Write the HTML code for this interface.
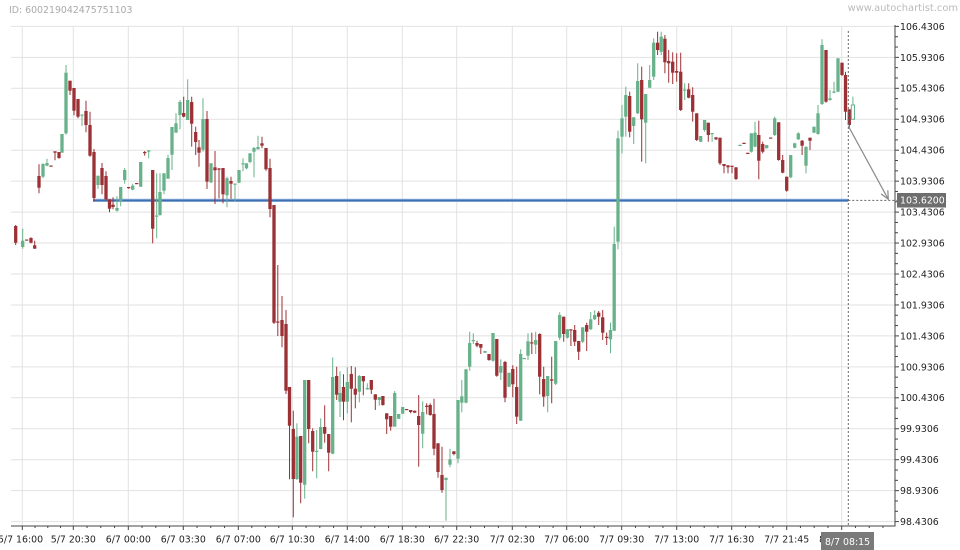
<!DOCTYPE html>
<html><head><meta charset="utf-8">
<style>
html,body{margin:0;padding:0;background:#fff;}
svg{display:block;}
text{font-family:"DejaVu Sans","Liberation Sans",sans-serif;}
</style></head>
<body>
<svg id="s" width="960" height="550" viewBox="0 0 960 550" xmlns="http://www.w3.org/2000/svg">
<rect x="0" y="0" width="960" height="550" fill="#fff"/>
<g id="grid" stroke="#e2e2e2" stroke-width="1"></g>
<g id="axes" stroke="#444" stroke-width="1"></g>
<line x1="93" y1="200.4" x2="848.3" y2="200.4" stroke="#8fb0dc" stroke-width="3.2"/>
<line x1="93" y1="200.4" x2="848.3" y2="200.4" stroke="#3f6fb3" stroke-width="1.6"/>
<g id="candles"></g>
<line x1="848.3" y1="31" x2="848.3" y2="526" stroke="#666" stroke-width="1" stroke-dasharray="2,2"/>
<line x1="848.3" y1="200.4" x2="897" y2="200.4" stroke="#666" stroke-width="1" stroke-dasharray="2,2"/>
<line x1="848.3" y1="126" x2="888.3" y2="199.3" stroke="#8a8a8a" stroke-width="1.2"/>
<polyline points="887.8,190.3 888.3,199.3 881.1,193.9" fill="none" stroke="#8a8a8a" stroke-width="1.2"/>
<text x="9" y="13" font-size="9.4" fill="#aaa">ID: 600219042475751103</text>
<text x="958" y="11" font-size="9.9" fill="#bbb" text-anchor="end">www.autochartist.com</text>
<g font-size="9.4" fill="#222">
<text x="900" y="29.8">106.4306</text>
<text x="900" y="60.8">105.9306</text>
<text x="900" y="91.7">105.4306</text>
<text x="900" y="122.7">104.9306</text>
<text x="900" y="153.6">104.4306</text>
<text x="900" y="184.6">103.9306</text>
<text x="900" y="215.5">103.4306</text>
<text x="900" y="246.5">102.9306</text>
<text x="900" y="277.4">102.4306</text>
<text x="900" y="308.4">101.9306</text>
<text x="900" y="339.3">101.4306</text>
<text x="900" y="370.3">100.9306</text>
<text x="900" y="401.2">100.4306</text>
<text x="900" y="432.2">99.9306</text>
<text x="900" y="463.1">99.4306</text>
<text x="900" y="494.1">98.9306</text>
<text x="900" y="525">98.4306</text>
</g>
<g font-size="9.4" fill="#222" text-anchor="middle">
<text x="20.5" y="542.5">5/7 16:00</text>
<text x="73.3" y="542.5">5/7 20:30</text>
<text x="128.3" y="542.5">6/7 00:00</text>
<text x="183.3" y="542.5">6/7 03:30</text>
<text x="238.3" y="542.5">6/7 07:00</text>
<text x="292.3" y="542.5">6/7 10:30</text>
<text x="347.3" y="542.5">6/7 14:00</text>
<text x="402.3" y="542.5">6/7 18:30</text>
<text x="456.7" y="542.5">6/7 22:30</text>
<text x="512.3" y="542.5">7/7 02:30</text>
<text x="566.7" y="542.5">7/7 06:00</text>
<text x="621.7" y="542.5">7/7 09:30</text>
<text x="676.7" y="542.5">7/7 13:00</text>
<text x="731.7" y="542.5">7/7 16:30</text>
<text x="786.7" y="542.5">7/7 21:45</text>
<text x="841.7" y="542.5">8/7 02:30</text>
</g>
<rect x="821" y="532" width="53" height="18" fill="#7a7a7a"/>
<text x="847.5" y="545" font-size="9.4" fill="#fff" text-anchor="middle">8/7 08:15</text>
<rect x="897" y="193" width="49" height="14.5" fill="#6e6e6e"/>
<text x="900" y="203.6" font-size="9.4" fill="#fff">103.6200</text>
</svg>
<script>
(function(){
var NS="http://www.w3.org/2000/svg";
function el(p,n,a){var e=document.createElementNS(NS,n);for(var k in a)e.setAttribute(k,a[k]);p.appendChild(e);return e;}
var grid=document.getElementById('grid'),axes=document.getElementById('axes'),cg=document.getElementById('candles');
var xs=[22.3,73.3,128.3,183.3,238.3,292.3,347.3,402.3,456.7,512.3,566.7,621.7,676.7,731.7,786.7,841.7];
var i,k,y;
for(i=0;i<=16;i++){y=26.4+i*30.95;el(grid,'line',{x1:11,y1:y,x2:895,y2:y});
 el(axes,'line',{x1:895,y1:y,x2:899,y2:y});
 if(i<16){el(axes,'line',{x1:895,y1:y+10.32,x2:898,y2:y+10.32});el(axes,'line',{x1:895,y1:y+20.63,x2:898,y2:y+20.63});}}
for(i=0;i<xs.length;i++){el(grid,'line',{x1:xs[i],y1:26.4,x2:xs[i],y2:526});
 el(axes,'line',{x1:xs[i],y1:526,x2:xs[i],y2:530});}
for(i=0;i<xs.length;i++){var a=xs[i],b=(i<xs.length-1)?xs[i+1]:895;var st=(i<xs.length-1)?(b-a)/4:13.75;
 for(k=1;k<4;k++){var xx=a+st*k;if(xx<894)el(axes,'line',{x1:xx,y1:526,x2:xx,y2:528});}}
el(axes,'line',{x1:895,y1:25,x2:895,y2:526.5});
el(axes,'line',{x1:11,y1:526,x2:895.5,y2:526});
var R='#9b3035',G='#67b28a';
var d=[
[15.7,226,242.7,225,245,'r'],[22.7,240.7,247,228.7,248.7,'g'],[26.7,239.5,240.5,239.5,240.5,'r'],[31,238,242.7,237.3,243.3,'r'],[34.7,245.3,248.7,240.7,248.7,'r'],
[39,176,187.7,164.3,193.3,'r'],[43,164,176.7,163.3,178.3,'g'],[47,163,165.7,158.7,166.3,'g'],[51,165.5,166.5,165.5,166.5,'r'],[55,151.3,152.7,151.3,160.3,'r'],
[59,152,158,152,158.7,'r'],[62,134,152.7,134,152.7,'g'],[66,72.7,133.3,65,134.7,'g'],[70,80.7,90.7,80.7,95,'r'],[74,88,110.7,88,115.3,'r'],
[78,99,116.7,99,118.3,'r'],[82,114.5,115.5,114.5,125.7,'g'],[86,111,125,100.7,132.3,'r'],[90,125,155.7,111.7,156.7,'r'],[94,152,198,149,201.3,'r'],
[98,175.7,185,175.7,189,'g'],[102,168,185,163,194.3,'r'],[106,176,199.3,171.3,200,'r'],[109.5,199.3,208.7,199.3,212.3,'r'],[113,204.7,207,197.3,209.3,'r'],
[117,208,210.7,196,211.7,'g'],[120.7,187,201.3,187,206.3,'g'],[124.7,170,180,168,183.7,'g'],[128.7,187,188,187,188.7,'r'],[132.7,185.7,189.7,183.7,190.3,'g'],
[136.7,183,184,183,184,'r'],[140.7,162,186.7,162,187,'g'],[144.7,152,153,151,155.7,'r'],[148.7,150.3,151.7,150.3,158.3,'g'],[152.7,170,228.7,170,243.3,'r'],
[156.7,215.5,216.5,173.3,238.3,'g'],[160,192,215,173.3,215.7,'g'],[164,173.3,190.7,173.3,194.3,'g'],[168,158,178.7,154.7,178.7,'g'],[172,127,154.7,127,170,'g'],
[176,123.3,132.7,113.3,132.7,'g'],[180,102,115,100,129.3,'g'],[183.7,113,116.7,96.7,117.3,'r'],[187.7,100,120,79.3,120,'g'],[191.7,102,123.7,96.7,146.7,'r'],
[195.7,132,142,126.7,155,'r'],[199,147.3,152.7,140,166.7,'r'],[203,119,149.7,98.3,151.7,'g'],[207,119,181.7,111,189,'r'],[211,163.3,182.3,163.3,183,'g'],
[215,167.3,170.3,151,204,'r'],[219,168.5,169.5,168,198.3,'r'],[223,168,194.3,168,203.3,'r'],[227,178.3,195.3,176.7,207.3,'g'],[231,181,183.7,176.7,198.7,'r'],
[235,183.5,184.5,183.5,202,'g'],[239,170,182.7,170,183,'g'],[243,163.3,164.3,158.3,171.3,'g'],[246.5,163.3,168.3,163.3,169.3,'g'],[250,153.3,162,153.3,163.3,'g'],
[254,148,151.7,146.7,177.3,'g'],[258,147,149.3,135.7,149.3,'g'],[262,143.3,145.7,136.7,148.3,'r'],[266,148,169.3,148,170.7,'r'],[270,168,209,158.7,217.3,'r'],
[274,205,322.7,205,324,'r'],[277.8,321.5,322.7,265,336,'r'],[282,320,336,296,347.3,'r'],[286,324,390.7,310,394,'r'],[289.5,387,425.7,387,479.3,'r'],
[293.3,429,479,410.7,517.3,'r'],[296.9,436.7,479,423.3,480,'g'],[300.7,436,482.7,436,503.3,'r'],[304.7,380,484.7,380,498.7,'g'],[308.7,380,429,380,443.3,'r'],
[312.7,431,451.7,428.3,471.3,'r'],[316.7,450.8,451.8,430,478.3,'g'],[320.7,427,449,418.3,449.3,'g'],[324.7,427,433.7,405.3,442.7,'r'],[328.7,434,452.7,434,471.3,'r'],
[332.7,377,453.7,357.3,454.3,'g'],[336.7,376,394.7,366.7,400,'r'],[340,393,401.7,371.3,417,'g'],[343.5,387,401.7,374.3,420.3,'r'],[347.3,382,401.7,367.3,413.3,'g'],
[351.3,374,388.7,366,422.3,'r'],[355.3,388.7,394.7,367.3,408.3,'r'],[359.3,376,391.7,375,402.3,'g'],[363.3,376,381.3,376,395.3,'r'],[367.3,388,389.3,383.3,389.7,'g'],
[371.3,380,389.7,380,394,'r'],[375.3,394.3,399.7,394.3,410,'r'],[379.3,397,400,397,405.7,'g'],[382.9,396,405,396,405.7,'r'],[386.7,413.3,419.3,413.3,434,'r'],
[390.7,416,426.7,416,430.7,'r'],[394.7,393,426.7,391,426.7,'g'],[398.7,414,418.7,414,419,'g'],[402.7,407,413.7,407,414,'g'],[406.7,409,410,409,410,'r'],
[410.7,410,412,410,413.3,'r'],[414.7,410.7,412.7,410.7,413,'r'],[418.7,416,425,395,466.7,'r'],[422.7,412,433.7,401.3,448.3,'g'],[426.7,405.7,406.7,403.3,414.3,'r'],
[430.2,405,415,403.3,415.7,'r'],[434,414,448.7,398.7,455.3,'r'],[438,443.3,472,443.3,477.7,'r'],[442,475,490,446.7,492.7,'r'],[446,477.7,480,477.7,520.7,'g'],
[450,459.3,464.7,448.7,467.3,'g'],[453.9,451.3,454,451.3,455.3,'r'],[458,400,458.7,400,463.3,'g'],[461.8,396.3,402.7,380,412.3,'g'],[466,369.3,402.7,369.3,403.3,'g'],
[469.7,343,366.7,331.7,370.7,'g'],[473.3,340,341,333.3,344,'g'],[477,343,345.7,340.7,347.3,'r'],[480.8,344,347.7,344,354,'r'],[485,351,352.7,351,353,'g'],
[489,354,360,354,360.7,'r'],[493,333,360.7,333,361.7,'g'],[496.8,339,375.7,339,376.7,'r'],[500.8,366,372.7,359.3,380,'g'],[505,362,397.7,361,402.3,'r'],
[509,372.7,386.7,372.7,387.3,'g'],[512.8,369,384.3,365.3,397.3,'r'],[516.7,387,416.7,366.7,424,'r'],[520.7,354,420.7,349.3,421,'g'],[524.3,358,359,358,359,'g'],
[528,341.3,355.7,333.3,360,'g'],[531.8,342.3,343.3,332.7,354,'r'],[535.7,340,344.7,331.7,354,'g'],[539.7,334,376.7,333.3,394.3,'r'],[543.7,379,396.7,366.7,406.7,'r'],
[547.7,376,396,376,412.3,'g'],[551.7,379.3,380.7,356.7,403.3,'r'],[555.7,341,383.7,341,385,'g'],[559.7,315,337.7,312.3,340,'g'],[563.7,316.7,334,316.7,341.7,'r'],
[567.4,329.3,337.7,329,338.5,'g'],[570.9,329.3,330.3,329.3,346,'r'],[574.7,330,341.7,325,346,'r'],[578.7,341,351.7,341,360,'r'],[582.7,327.3,341.7,327.3,343,'g'],
[586.7,325,331.7,322.7,351,'r'],[590.7,319.3,329.3,312,330,'g'],[594.7,315,319.3,310.3,320,'g'],[598.7,312.7,316.7,311,325,'r'],[602.7,317.3,332.7,310,340,'r'],
[606.7,336.8,337.8,332.7,345,'r'],[610.5,330,339.3,322.7,353.3,'g'],[614.2,244,330.7,226.7,331,'g'],[618,138.3,241.7,130.7,249.3,'g'],[622,118.3,136.7,105,153.3,'g'],
[625.8,95,116.7,86.7,136.7,'g'],[629.7,96,131.7,91.7,137.3,'r'],[633.7,117.3,126,117.3,144,'g'],[637.7,81,113.3,63.3,114,'g'],[641.7,80,119.3,66.7,161.7,'r'],
[645.7,94,122.7,94,163.3,'g'],[649.7,80,87.7,65,88.3,'g'],[653.7,42.7,76.7,38.3,80,'g'],[657.6,42.7,50,31.7,55,'r'],[661.2,36.7,51.7,31.7,55,'g'],
[664.9,38.7,62.3,35,73.3,'r'],[668.7,61,63.3,50,82.7,'r'],[672.7,61.7,72.7,52.3,84,'r'],[676.7,71,72.7,53.3,81.7,'r'],[680.7,71.7,110,52.7,111,'r'],
[684.7,89.5,90.5,83.3,100,'g'],[688.7,89.3,97.7,83.3,98.3,'r'],[692.7,95,111.7,87.3,121.7,'r'],[696.7,113.3,140,113.3,141,'r'],[700.7,136,141.7,136,142,'g'],
[704.6,120,130,120,131.7,'g'],[708.3,122.7,135,122.7,141.7,'r'],[712.1,133,134,133,141.7,'g'],[716,137.3,139.3,137.3,140,'r'],[720,137.7,163.3,137.7,165,'r'],
[724,164,166,164,173.3,'r'],[728,165.3,167.3,165.3,173.3,'r'],[732,165.7,166.7,165.7,173.3,'r'],[736,167.3,179,167.3,180,'r'],
[740,144.8,145.8,144.8,145.8,'g'],[744,142.8,143.8,142.8,143.8,'r'],[747.8,152.8,153.8,152.8,153.8,'r'],[751.3,133.3,151.7,133.3,152.7,'g'],[755,132.7,146.7,121.7,147.3,'g'],
[758.8,135,160.7,120.7,179.3,'r'],[762.7,144,151.7,141.7,153.3,'r'],[766.7,145,148.3,145,148.5,'g'],[770.7,137.5,138.5,137.5,138.5,'r'],[774.7,118.3,135,116.7,136,'g'],
[778.7,122.3,160,122.3,160.7,'r'],[782.7,160,172.7,155,173.3,'r'],[786.7,176.7,190.7,176.7,191.7,'r'],[790.7,155,177.3,155,178.3,'g'],[794.7,143.3,147.7,142.7,148.3,'g'],
[798.3,133.3,139.3,132.3,140,'g'],[802.1,140.7,145.7,140,155,'r'],[806,146.7,165.7,146.7,173.3,'g'],[810,137.7,140.7,137.7,150,'r'],[814,126.7,132.7,126.7,133.3,'g'],
[818,113.3,134,105,134.7,'g'],[822,45,104,39.3,105,'g'],[826,50,101.7,50,102.7,'r'],[830,98.3,100,90,100.7,'g'],[834,91.5,92.7,81.7,93.3,'g'],
[838,58.3,91.7,58.3,92.3,'g'],[842,62.7,75,62.7,76,'r'],[845.5,75,111.7,71.7,120,'r'],[849.3,109.3,125,109.3,128.3,'r']
];
var w=3.3;
for(i=0;i<d.length;i++){var c=d[i],col=c[5]=='r'?R:G;
 el(cg,'line',{x1:c[0],y1:c[3],x2:c[0],y2:c[4],stroke:col,'stroke-width':1});
 var h=Math.max(c[2]-c[1],1.2);
 el(cg,'rect',{x:c[0]-w/2,y:c[1],width:w,height:h,fill:col});}
// hollow last candle
el(cg,'line',{x1:852.9,y1:96.7,x2:852.9,y2:105,stroke:G,'stroke-width':1});
el(cg,'rect',{x:851.3,y:105,width:3.2,height:14.3,fill:'#fff',stroke:G,'stroke-width':1});
})();
</script>
</body></html>
